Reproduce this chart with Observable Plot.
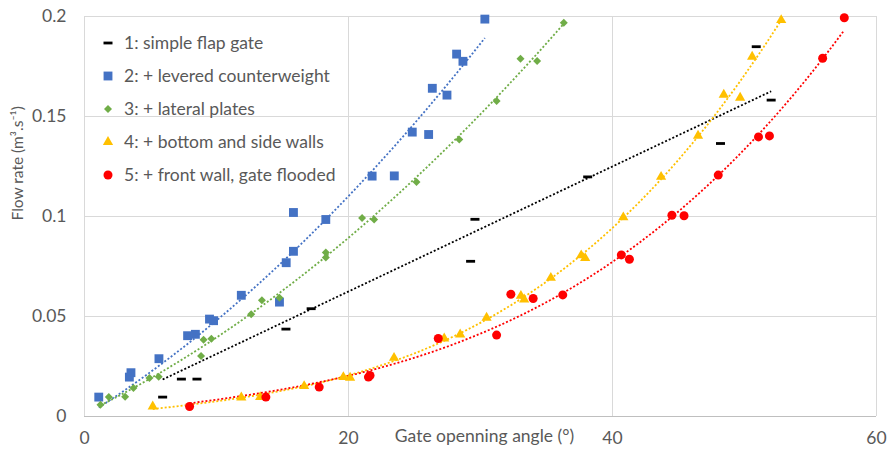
<!DOCTYPE html>
<html>
<head>
<meta charset="utf-8">
<script src="https://cdn.jsdelivr.net/npm/d3@7"></script>
<script src="https://cdn.jsdelivr.net/npm/@observablehq/plot@0.6"></script>
<style>
  html, body { margin: 0; padding: 0; background: #fff; }
  #wrap { position: relative; width: 887px; height: 451px; font-family: Lato, "Open Sans", sans-serif; }
  #legend { position: absolute; left: 100px; top: 26px; font-size: 17.5px; color: #595959; }
  #legend .row { display: flex; align-items: center; height: 33px; }
  #legend svg { display: block; margin-right: 8px; }
</style>
</head>
<body>
<div id="wrap"></div>
<script>
// ---- data ----
const seriesNames = [
  "1: simple flap gate",
  "2: + levered counterweight",
  "3: + lateral plates",
  "4: + bottom and side walls",
  "5: + front wall, gate flooded"
];
const seriesColors = ["#000000", "#4472C4", "#70AD47", "#FFC000", "#FF0000"];
const xTicks = [0, 20, 40, 60];
const yTicks = [0, 0.05, 0.1, 0.15, 0.2];
const yTickLabels = ["0", "0.05", "0.1", "0.15", "0.2"];
const xTitle = "Gate openning angle (°)";
const yTitle = "Flow rate (m³.s⁻¹)";

// 1: simple flap gate
const s1x = [5.92, 7.34, 8.52, 15.26, 17.17, 29.25, 29.58, 38.12, 48.18, 50.89, 52.02];
const s1y = [0.0097, 0.0187, 0.0187, 0.0437, 0.0539, 0.0776, 0.0986, 0.1198, 0.1365, 0.1849, 0.1582];
// 2: + levered counterweight
const s2x = [1.08, 3.40, 3.52, 5.64, 7.81, 8.40, 9.47, 9.78, 11.88, 14.77, 15.28, 15.83, 15.83, 18.28, 21.79, 23.47, 24.83, 26.07, 26.35, 27.46, 28.19, 28.67, 30.33];
const s2y = [0.0097, 0.0197, 0.0219, 0.0289, 0.0404, 0.0411, 0.0487, 0.0479, 0.0606, 0.0572, 0.0769, 0.0826, 0.1020, 0.0985, 0.1202, 0.1203, 0.1422, 0.1410, 0.1641, 0.1607, 0.1812, 0.1776, 0.1987];
// 3: + lateral plates
const s3x = [1.21, 1.84, 3.08, 3.71, 4.92, 5.62, 8.83, 9.02, 9.61, 12.63, 13.44, 14.77, 18.28, 18.28, 21.03, 21.94, 25.15, 28.39, 31.22, 33.03, 34.29, 36.31];
const s3y = [0.0059, 0.0097, 0.0099, 0.0142, 0.0192, 0.0199, 0.0302, 0.0384, 0.0389, 0.0511, 0.0581, 0.0594, 0.0820, 0.0795, 0.0993, 0.0985, 0.1172, 0.1385, 0.1578, 0.1789, 0.1777, 0.1969];
// 4: + bottom and side walls
const s4x = [5.17, 11.88, 13.31, 16.64, 19.61, 20.12, 23.45, 27.25, 28.46, 30.46, 33.06, 33.31, 35.33, 37.63, 37.93, 40.82, 43.68, 46.48, 48.43, 49.67, 50.58, 52.78];
const s4y = [0.0050, 0.0095, 0.0097, 0.0152, 0.0197, 0.0194, 0.0293, 0.0390, 0.0410, 0.0494, 0.0603, 0.0585, 0.0693, 0.0806, 0.0792, 0.0996, 0.1198, 0.1404, 0.1609, 0.1594, 0.1799, 0.1982];
// 5: + front wall, gate flooded
const s5x = [7.96, 13.74, 17.78, 21.51, 21.63, 26.80, 31.22, 32.30, 33.99, 36.23, 40.67, 41.28, 44.50, 45.42, 48.01, 51.06, 51.89, 55.92, 57.56];
const s5y = [0.0050, 0.0097, 0.0147, 0.0197, 0.0205, 0.0390, 0.0407, 0.0611, 0.0590, 0.0608, 0.0808, 0.0786, 0.1006, 0.1004, 0.1207, 0.1398, 0.1403, 0.1791, 0.1994];

const seriesX = [s1x, s2x, s3x, s4x, s5x];
const seriesY = [s1y, s2y, s3y, s4y, s5y];
// trendline type per series: polynomial order, and whether the intercept is forced to 0
const trendDegree = [1, 2, 2, 3, 3];
const trendZeroIntercept = [true, true, false, true, true];

// ---- build tables ----
const points = [];
seriesX.forEach((xs, k) => xs.forEach((x, i) => points.push({series: k, x, y: seriesY[k][i]})));

function polyFit(xs, ys, deg, zero) {
  const pows = d3.range(zero ? 1 : 0, deg + 1);
  const n = pows.length;
  const A = Array.from({length: n}, () => new Array(n + 1).fill(0));
  for (let i = 0; i < xs.length; i++) {
    for (let r = 0; r < n; r++) {
      for (let c = 0; c < n; c++) A[r][c] += Math.pow(xs[i], pows[r] + pows[c]);
      A[r][n] += ys[i] * Math.pow(xs[i], pows[r]);
    }
  }
  for (let c = 0; c < n; c++) {
    let p = c;
    for (let r = c + 1; r < n; r++) if (Math.abs(A[r][c]) > Math.abs(A[p][c])) p = r;
    [A[c], A[p]] = [A[p], A[c]];
    for (let r = 0; r < n; r++) {
      if (r === c) continue;
      const f = A[r][c] / A[c][c];
      for (let k = c; k <= n; k++) A[r][k] -= f * A[c][k];
    }
  }
  const coef = A.map((row, i) => row[n] / row[i]);
  return (x) => coef.reduce((s, c, i) => s + c * Math.pow(x, pows[i]), 0);
}
const trend = [];
seriesX.forEach((xs, k) => {
  const f = polyFit(xs, seriesY[k], trendDegree[k], trendZeroIntercept[k]);
  const [lo, hi] = d3.extent(xs);
  d3.range(0, 121).forEach(j => {
    const x = lo + (hi - lo) * j / 120;
    trend.push({series: k, x, y: f(x)});
  });
});

// ---- symbols ----
const dash = {draw(ctx) { ctx.rect(-4.5, -1.4, 9, 2.8); }};
const symbols = [dash, "square", "diamond2", "triangle", "circle"];
const radii = [3, 5.0, 3.6, 3.8, 4.5];

const marks = [
  Plot.gridX(xTicks, {stroke: "#d9d9d9", strokeOpacity: 1}),
  Plot.gridY(yTicks, {stroke: "#d9d9d9", strokeOpacity: 1}),
  Plot.ruleY([0], {stroke: "#bfbfbf"}),
  Plot.axisX(xTicks, {tickSize: 0, tickPadding: 15, fontSize: 17.5, fill: "#595959", label: null}),
  Plot.axisY(yTicks, {tickSize: 0, tickPadding: 18, fontSize: 17.5, fill: "#595959", label: null,
    tickFormat: (d) => yTickLabels[yTicks.indexOf(d)]}),
  Plot.text([xTitle], {frameAnchor: "bottom", dx: 4, dy: 25, fontSize: 17.5, fill: "#595959"}),
  Plot.text([yTitle], {frameAnchor: "left", rotate: -90, dx: -66, dy: 4, fontSize: 15.5, fill: "#595959"})
];
seriesX.forEach((xs, k) => {
  marks.push(Plot.line(trend.filter(d => d.series === k), {
    x: "x", y: "y", stroke: seriesColors[k], strokeWidth: 1.8, strokeDasharray: "2 2", strokeLinecap: "butt"
  }));
});
seriesX.forEach((xs, k) => {
  marks.push(Plot.dot(points.filter(d => d.series === k), {
    x: "x", y: "y", symbol: symbols[k], r: radii[k], fill: seriesColors[k], stroke: "none"
  }));
});

const chart = Plot.plot({
  width: 887,
  height: 451,
  marginLeft: 84,
  marginRight: 11,
  marginTop: 16,
  marginBottom: 35,
  style: {fontFamily: "Lato, 'Open Sans', sans-serif", background: "#fff"},
  x: {domain: [0, 60]},
  y: {domain: [0, 0.2]},
  marks
});
const wrap = document.getElementById("wrap");
wrap.appendChild(chart);

// ---- legend (inside plot area, top-left) ----
const legend = d3.select(wrap).append("div").attr("id", "legend");
seriesNames.forEach((name, k) => {
  const row = legend.append("div").attr("class", "row");
  const sw = row.append("svg").attr("width", 16).attr("height", 16);
  const g = sw.append("g").attr("transform", "translate(8,8)");
  const size = Math.PI * radii[k] * radii[k];
  const sym = k === 0 ? dash : {square: d3.symbolSquare, diamond2: d3.symbolDiamond2, triangle: d3.symbolTriangle, circle: d3.symbolCircle}[symbols[k]];
  g.append("path").attr("d", d3.symbol(sym, size)()).attr("fill", seriesColors[k]);
  row.append("span").text(name);
});
</script>
</body>
</html>
